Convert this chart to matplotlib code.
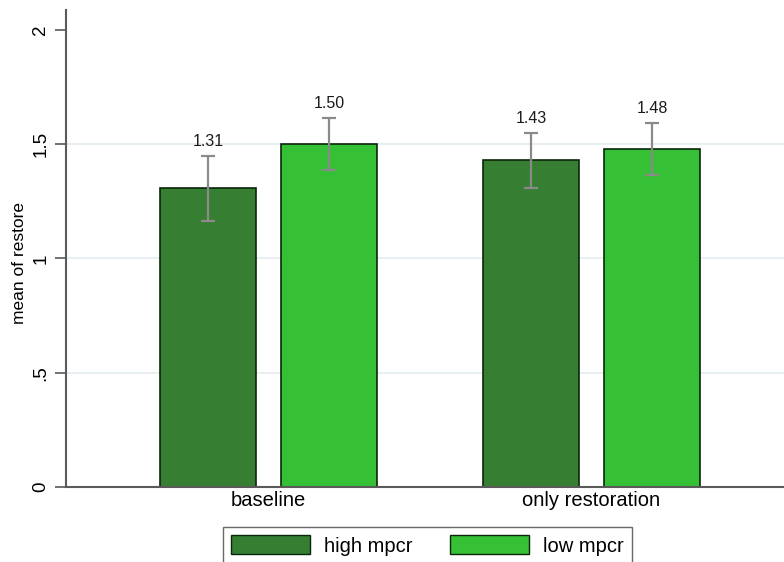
import matplotlib.pyplot as plt
from matplotlib.patches import Patch

plt.rcParams['font.family'] = ['Liberation Sans', 'DejaVu Sans']

# Data
groups = ['baseline', 'only restoration']
series = ['high mpcr', 'low mpcr']
means = {'high mpcr': [1.31, 1.43], 'low mpcr': [1.50, 1.48]}
ci_low = {'high mpcr': [1.165, 1.308], 'low mpcr': [1.385, 1.364]}
ci_high = {'high mpcr': [1.448, 1.550], 'low mpcr': [1.616, 1.592]}
colors = {'high mpcr': '#357e32', 'low mpcr': '#35c035'}

fig = plt.figure(figsize=(7.84, 5.62), dpi=100)
ax = fig.add_axes([66 / 784, 75 / 562, 1 - 66 / 784, 477 / 562])

offsets = [-0.1875, 0.1875]
width = 0.297
for s, off in zip(series, offsets):
    xs = [i + off for i in range(len(groups))]
    ax.bar(xs, means[s], width=width, color=colors[s], edgecolor='#0b260b',
           linewidth=1.2, zorder=2)
    for x, m, lo, hi in zip(xs, means[s], ci_low[s], ci_high[s]):
        ax.errorbar(x, m, yerr=[[m - lo], [hi - m]], fmt='none', ecolor='#8a8a8a',
                    elinewidth=1.6, capsize=5, capthick=1.6, zorder=3)
        ax.annotate(f'{m:.2f}', (x, hi), xytext=(0, 5), textcoords='offset points',
                    ha='center', va='bottom', fontsize=11.5, color='#1a1a1a')

ax.set_xlim(-0.627, 1.596)
ax.set_ylim(0, 2.087)
ax.set_yticks([0, 0.5, 1, 1.5, 2])
ax.set_yticklabels(['0', '.5', '1', '1.5', '2'], rotation=90, va='center')
ax.set_xticks(range(len(groups)))
ax.set_xticklabels(groups)
ax.tick_params(axis='x', length=0, labelsize=14.5, pad=3)
ax.tick_params(axis='y', length=8, width=1.2, color='#5a5a5a', labelsize=13.5, pad=4)
ax.set_ylabel('mean of restore', fontsize=12.5)
ax.yaxis.set_label_coords(-0.054, 0.47)

for y in [0.5, 1, 1.5]:
    ax.axhline(y, color='#e4ecf1', linewidth=1.2, zorder=0)

for side in ['top', 'right']:
    ax.spines[side].set_visible(False)
for side in ['left', 'bottom']:
    ax.spines[side].set_color('#5a5a5a')
    ax.spines[side].set_linewidth(1.5)

handles = [Patch(facecolor=colors[s], edgecolor='#0b260b', label=s) for s in series]
leg = fig.legend(handles=handles, loc='upper left', bbox_to_anchor=(223 / 784, 1 - 527 / 562),
                 borderaxespad=0, ncol=2, fontsize=14.5, frameon=True, fancybox=False,
                 edgecolor='#444444', handlelength=3.9, handleheight=1.1,
                 handletextpad=0.7, columnspacing=1.9, borderpad=0.4)
leg.get_frame().set_linewidth(1.0)

fig.savefig('out.png', dpi=100)
